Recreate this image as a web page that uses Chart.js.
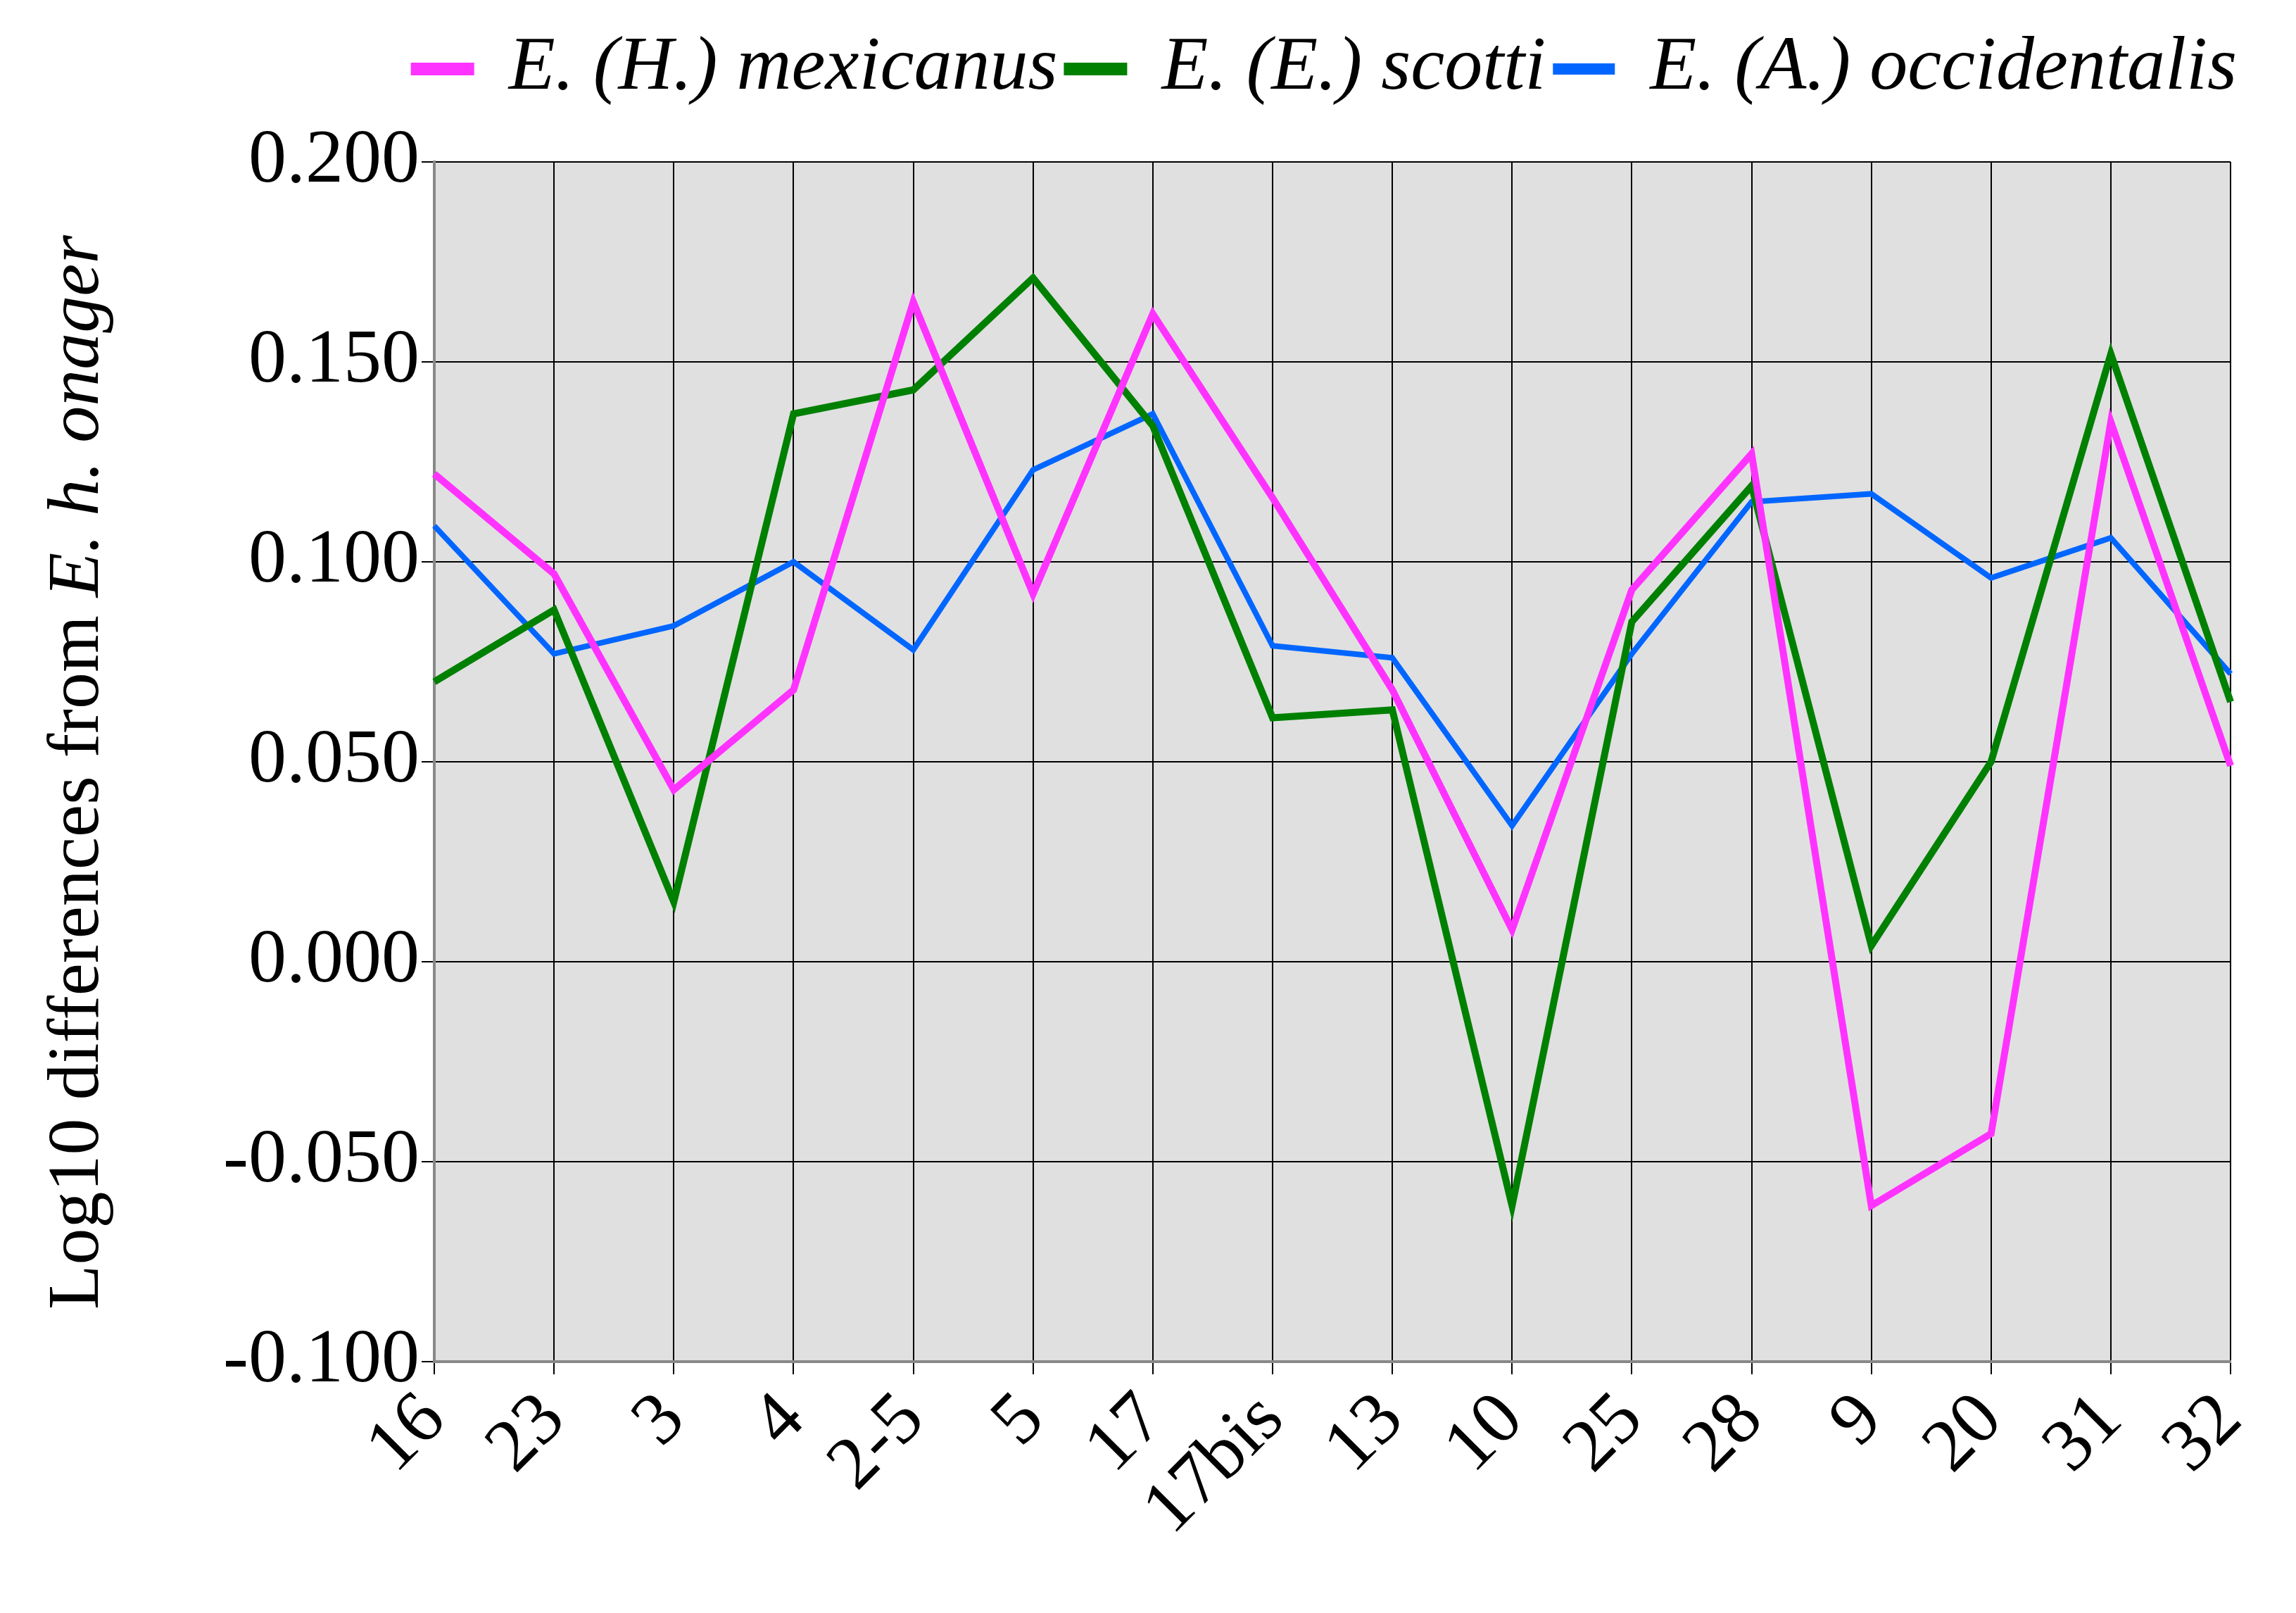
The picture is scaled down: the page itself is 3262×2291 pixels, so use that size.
<!DOCTYPE html>
<html><head><meta charset="utf-8">
<script src="https://cdn.jsdelivr.net/npm/chart.js@4"></script>
<style>html,body{margin:0;padding:0;background:#fff}</style>
</head><body>
<canvas id="c" width="3262" height="2291"></canvas>
<script>
const categories = ["16","23","3","4","2-5","5","17","17bis","13","10","25","28","9","20","31","32"];
const mexicanus = [0.122,0.097,0.043,0.068,0.165,0.092,0.162,0.116,0.068,0.008,0.093,0.127,-0.061,-0.043,0.135,0.049];
const scotti = [0.070,0.088,0.015,0.137,0.143,0.171,0.134,0.061,0.063,-0.061,0.085,0.119,0.004,0.050,0.152,0.065];
const occidentalis = [0.109,0.077,0.084,0.100,0.078,0.123,0.137,0.079,0.076,0.034,0.077,0.115,0.117,0.096,0.106,0.072];
const seriesNames = ["E. (H.) mexicanus","E. (E.) scotti","E. (A.) occidentalis"];
const FAM = '"Liberation Serif", "Times New Roman", serif';

const bgPlugin = {
  id: 'bg',
  beforeDraw(chart) {
    const {ctx, chartArea: a} = chart;
    ctx.save(); ctx.fillStyle = '#e0e0e0';
    ctx.fillRect(a.left, a.top, a.right - a.left, a.bottom - a.top);
    ctx.restore();
  },
  afterDraw(chart) {
    const {ctx, chartArea: a} = chart;
    ctx.save();
    ctx.translate(112, (a.top + a.bottom) / 2 + 15);
    ctx.rotate(-Math.PI / 2);
    ctx.fillStyle = '#000'; ctx.textBaseline = 'middle';
    const p1 = 'Log10 differences from ', p2 = 'E. h. onager';
    ctx.font = '104px ' + FAM;
    const w1 = ctx.measureText(p1).width;
    ctx.font = 'italic 104px ' + FAM;
    const w2 = ctx.measureText(p2).width;
    let x = -(w1 + w2) / 2;
    ctx.font = '104px ' + FAM; ctx.fillText(p1, x, 0);
    ctx.font = 'italic 104px ' + FAM; ctx.fillText(p2, x + w1, 0);
    ctx.restore();
  }
};

new Chart(document.getElementById('c'), {
  type: 'line',
  data: {
    labels: categories,
    datasets: [
      {label: seriesNames[0], data: mexicanus, borderColor: '#ff33ff', backgroundColor: '#ff33ff', borderWidth: 10, pointRadius: 0, tension: 0},
      {label: seriesNames[1], data: scotti, borderColor: '#008000', backgroundColor: '#008000', borderWidth: 10, pointRadius: 0, tension: 0},
      {label: seriesNames[2], data: occidentalis, borderColor: '#0066ff', backgroundColor: '#0066ff', borderWidth: 8, pointRadius: 0, tension: 0}
    ]
  },
  options: {
    responsive: false, devicePixelRatio: 1, animation: false,
    layout: {padding: {left: 0, right: 70, top: 30, bottom: 0}},
    plugins: {
      legend: {
        align: 'end',
        labels: {font: {family: FAM, size: 108, style: 'italic'}, color: '#000',
          boxWidth: 80, boxHeight: 8, padding: 14},
        onClick: null
      },
      tooltip: {enabled: false}
    },
    scales: {
      x: {
        offset: false,
        grid: {color: '#000', lineWidth: 2, drawTicks: true, tickLength: 18},
        border: {color: '#888', width: 4},
        ticks: {font: {family: FAM, size: 106}, color: '#000', maxRotation: 45, minRotation: 45, autoSkip: false},
        afterFit(s) { s.height = 357; }
      },
      y: {
        min: -0.1, max: 0.2,
        grid: {color: '#000', lineWidth: 2, tickLength: 18},
        border: {color: '#888', width: 4},
        ticks: {stepSize: 0.05, font: {family: FAM, size: 108}, color: '#000',
          callback: v => v.toFixed(3)},
        afterFit(s) { s.width = 617; }
      }
    }
  },
  plugins: [bgPlugin, {
    id: 'legendHeight',
    beforeInit(chart) {
      const orig = chart.legend && chart.legend.fit;
    }
  }]
});
Chart.getChart('c').legend.fit = (function(f){ return function(){ f.call(this); this.height = 200; }; })(Chart.getChart('c').legend.fit);
Chart.getChart('c').update();
</script>
</body></html>
